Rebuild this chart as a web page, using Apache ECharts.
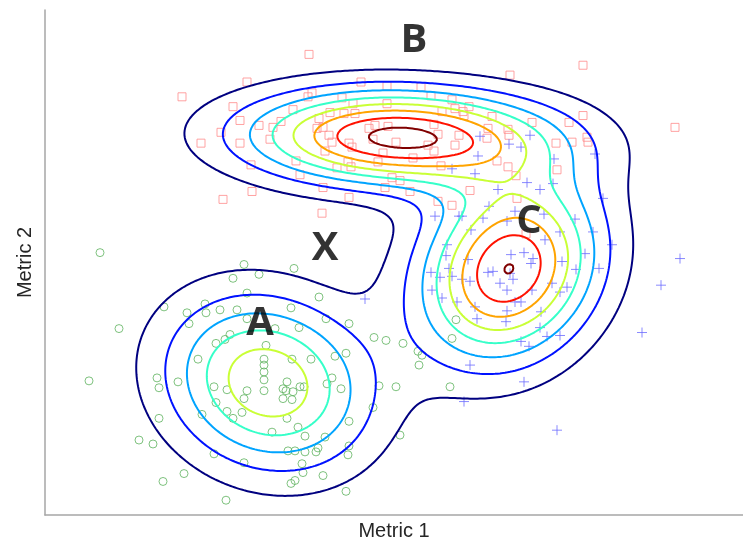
<!DOCTYPE html>
<html><head><meta charset="utf-8">
<script src="https://cdn.jsdelivr.net/npm/echarts@6/dist/echarts.min.js"></script>
<style>html,body{margin:0;padding:0;background:#fff}#c{width:743px;height:546px}</style>
</head><body><div id="c"></div>
<script>
// Group A (green circles)
const groupA = [[37.6,48],[42.8,48.8],[49.8,50],[40.4,45],[54.8,44.2],[32,42.8],[23.8,42.2],[28.4,41],[32.2,41],[35,41.6],[38.4,41.6],[40.4,39.8],[49.2,42],[46,37.8],[50.8,38],[56.2,39.8],[60.8,38.8],[28.8,38.8],[14.8,37.8],[65.8,36],[68.2,35.4],[37,36.6],[36,35.6],[34.2,34.8],[44.2,34.4],[30.6,31.6],[43.8,31.6],[43.8,30.4],[43.8,29],[43.8,27.4],[49.4,31.6],[53.2,31.6],[58,32.2],[60.2,32.8],[22.4,27.8],[22.8,25.8],[26.6,27],[8.8,27.2],[33.8,26],[36.4,25.4],[40.4,25.2],[39.8,23.6],[43.8,25.2],[48.4,27],[47.6,25.6],[48.2,25.2],[49.6,25],[51,26],[51.8,26],[47.6,23.6],[49.4,23.4],[56.4,26.6],[57.4,27.8],[59.2,25.6],[66.8,26.2],[34.2,22.8],[36.4,21],[37.6,19.6],[39.4,20.8],[31.4,20.4],[22.8,19.6],[48.4,19.6],[50.6,17.8],[45.4,16.8],[52,16],[56,15.8],[60.8,19],[65.6,21.8],[18.8,15.2],[21.6,14.4],[33.8,12.4],[39.8,10.6],[48.6,13],[50,13],[52,12.8],[54.2,12.8],[54.6,13.6],[60.8,14],[60.6,12.2],[51.4,10.4],[51.6,8.6],[55.6,8],[50,7],[49.2,6.4],[27.8,8.4],[23.6,6.8],[36.2,3],[60.2,4.8],[11,53.2],[39.8,50.8],[71.6,34.8],[74.6,33.2],[75.4,32.4],[74.8,30.4],[70.2,26],[81,26],[82.2,39.6],[81.4,35.8],[71,16.2]];
// Group B (red squares)
const groupB = [[52.8,93.4],[40.4,87.8],[27.4,84.8],[37.6,82.8],[63.2,87.8],[68.4,87],[53.4,85.6],[52.6,84.8],[59.4,84.6],[61.6,83.4],[68.4,83.4],[49.6,82.2],[57,81.6],[62,81.4],[59.8,81.4],[39,80],[47.2,79.8],[42.8,79],[45.6,78.6],[54.8,80.4],[54.4,78.4],[55.6,78.6],[35.2,77.6],[45,76.2],[39,75.4],[31.2,75.4],[56.8,77],[57.4,75.6],[64.8,78.4],[66,79],[65.6,76.2],[60.8,75.4],[61.4,74.6],[56,73.8],[67.6,73.4],[50.2,71.8],[41.2,71],[58.4,70.4],[60.6,71.6],[61.2,70.6],[66.6,71.6],[51,69],[55.6,66.4],[68,66.4],[41.4,65.6],[35.6,64],[60.8,64.4],[55.4,61.2],[69.4,68.4],[93,89.2],[75.2,86.8],[77.2,85],[81.4,84.2],[84.8,82.8],[82,82.4],[83.6,81.8],[83.8,81],[89.4,80.8],[68.6,78.8],[77.8,79.2],[78.6,77.2],[88.6,78.4],[92.6,78.2],[92.8,77],[70.2,75.6],[76.6,75],[82,75],[77.8,73.8],[73.6,72.4],[79.2,70.8],[90.4,71.8],[92.6,70.6],[107.6,91.2],[79.4,81.8],[97.4,79.6],[104.8,79.6],[107.6,81],[126,78.6],[82.8,77],[88.4,76.4],[102.2,75.4],[105.4,75.6],[108.4,76.6],[108.6,75.6],[94.2,68.8],[102.4,70],[71,67.8],[73,65.6],[85,65.8],[78.6,63.6],[81.4,62.8],[94.4,64.2],[96.2,57]];
// Group C (blue plus)
const groupC = [[87,76.8],[92.8,75.2],[95.2,74.6],[97,77],[86.6,72.8],[81.4,70.2],[86,69.2],[90.6,66],[96.4,67.4],[99,66],[101.6,67.2],[101.8,72.2],[110,73.2],[111.6,64.2],[88.8,62.6],[78,60.6],[82.8,60.6],[83.4,60.6],[85.2,57.8],[87.6,60.2],[94,61.6],[92.4,59.6],[99.8,61],[106,60],[109.6,57.4],[103,57.4],[100,55.8],[113.4,54.8],[80.4,54.8],[80.2,52.6],[108,53],[127,52],[95.8,53.2],[93.2,52.8],[97.6,52],[97.2,51],[103.4,51.4],[106.2,49.8],[110.8,50],[84.6,51.8],[80.8,50],[81.4,48.4],[83.4,47.8],[85,47.4],[88.6,49.2],[89.6,49.4],[93,49],[93.6,47.8],[91,47],[92.4,45.6],[77.2,49.2],[79,48.2],[77.4,45.6],[79.4,44],[82.4,43.2],[97.4,45.6],[101.4,47],[103,45.2],[104.4,46.2],[123.2,46.6],[94,43.2],[95.2,43.2],[86,42.2],[92.4,41.4],[99.2,41.2],[86.4,39.8],[92.2,39.2],[99,38],[100.4,36.2],[103,36.4],[95.2,35.2],[96.8,34.2],[119.4,37],[85,30.4],[95.8,27],[83.8,23],[102.4,17.2],[64,43.8]];
// Annotation letters
const annotations = [['A',43,38.8],['B',73.8,96.2],['C',96.8,59.4],['X',56,54]];
// Peak height of each mixture component, in contour-level units (read from how many levels each cluster reaches)
const peakLevels = [5.85, 8.3, 8.02];
const contourLevels = [1,2,3,4,5,6,7,8];
const levelColors = ['#000080','#0012ff','#00a4ff','#36ffc9','#c9ff36','#ffa400','#ff1200','#800000'];

const xMin=0,xMax=139.6,yMin=0,yMax=102.4,step=0.5;
// Gaussian mixture fitted to all points by EM, started from the three groups
function mk(mx,my,sxx,syy,sxy,w){const det=sxx*syy-sxy*sxy;return {mx,my,sxx,syy,sxy,w,det,ixx:syy/det,iyy:sxx/det,ixy:-sxy/det};}
function q(c,x,y){const dx=x-c.mx,dy=y-c.my;return c.ixx*dx*dx+2*c.ixy*dx*dy+c.iyy*dy*dy;}
const all=groupA.concat(groupB,groupC);
let comps=[groupA,groupB,groupC].map(g=>{const n=g.length;let mx=0,my=0;for(const p of g){mx+=p[0];my+=p[1];}mx/=n;my/=n;
  let sxx=0,syy=0,sxy=0;for(const p of g){const dx=p[0]-mx,dy=p[1]-my;sxx+=dx*dx;syy+=dy*dy;sxy+=dx*dy;}
  return mk(mx,my,sxx/n,syy/n,sxy/n,n/all.length);});
for(let it=0;it<300;it++){
  const R=all.map(p=>{const v=comps.map(c=>c.w*Math.exp(-0.5*q(c,p[0],p[1]))/Math.sqrt(c.det));const s=v[0]+v[1]+v[2];return v.map(t=>t/s);});
  comps=comps.map((c,k)=>{let nk=0,mx=0,my=0;all.forEach((p,n)=>{const r=R[n][k];nk+=r;mx+=r*p[0];my+=r*p[1];});mx/=nk;my/=nk;
    let sxx=0,syy=0,sxy=0;all.forEach((p,n)=>{const r=R[n][k];const dx=p[0]-mx,dy=p[1]-my;sxx+=r*dx*dx;syy+=r*dy*dy;sxy+=r*dx*dy;});
    return mk(mx,my,sxx/nk,syy/nk,sxy/nk,nk/all.length);});
}
function dens(x,y){let s=0;comps.forEach((c,k)=>{s+=peakLevels[k]*Math.exp(-0.5*q(c,x,y));});return s;}
const nx=Math.ceil((xMax-xMin)/step)+1, ny=Math.ceil((yMax-yMin)/step)+1;
const grid=[];
for(let j=0;j<ny;j++){const row=new Float64Array(nx);for(let i=0;i<nx;i++)row[i]=dens(xMin+i*step,yMin+j*step);grid.push(row);}
function contour(level){
  const segs=[];
  const X=i=>xMin+i*step,Y=j=>yMin+j*step;
  function ip(i0,j0,i1,j1){const v0=grid[j0][i0],v1=grid[j1][i1];const t=(level-v0)/(v1-v0);return [X(i0)+(X(i1)-X(i0))*t,Y(j0)+(Y(j1)-Y(j0))*t];}
  for(let j=0;j<ny-1;j++)for(let i=0;i<nx-1;i++){
    const a=grid[j][i],b=grid[j][i+1],c=grid[j+1][i+1],d=grid[j+1][i];
    const code=(a>level?1:0)|(b>level?2:0)|(c>level?4:0)|(d>level?8:0);
    if(code===0||code===15)continue;
    const E={B:()=>['h'+i+'_'+j,ip(i,j,i+1,j)],R:()=>['v'+(i+1)+'_'+j,ip(i+1,j,i+1,j+1)],T:()=>['h'+i+'_'+(j+1),ip(i,j+1,i+1,j+1)],L:()=>['v'+i+'_'+j,ip(i,j,i,j+1)]};
    const add=(e1,e2)=>{const p=E[e1](),r=E[e2]();segs.push([p[0],p[1],r[0],r[1]]);};
    const ctr=(a+b+c+d)/4>level;
    switch(code){
      case 1:case 14:add('L','B');break;
      case 2:case 13:add('B','R');break;
      case 3:case 12:add('L','R');break;
      case 4:case 11:add('R','T');break;
      case 6:case 9:add('B','T');break;
      case 7:case 8:add('L','T');break;
      case 5:if(ctr){add('B','R');add('L','T');}else{add('L','B');add('R','T');}break;
      case 10:if(ctr){add('L','B');add('R','T');}else{add('B','R');add('L','T');}break;
    }
  }
  const adj=new Map();
  segs.forEach((s,k)=>{[s[0],s[2]].forEach(id=>{if(!adj.has(id))adj.set(id,[]);adj.get(id).push(k);});});
  const used=new Uint8Array(segs.length);const out=[];
  function walk(cur,pts,front){
    while(true){const list=adj.get(cur);let nxt=-1;for(const m of list)if(!used[m]){nxt=m;break;}
      if(nxt<0)break;used[nxt]=1;const t=segs[nxt];let np;
      if(t[0]===cur){np=t[3];cur=t[2];}else{np=t[1];cur=t[0];}
      if(front)pts.unshift(np);else pts.push(np);}
  }
  for(let k=0;k<segs.length;k++){if(used[k])continue;used[k]=1;const s=segs[k];const pts=[s[1],s[3]];
    walk(s[2],pts,false);walk(s[0],pts,true);out.push(pts);}
  return out;
}
const contourSeries=contourLevels.map((lv,k)=>({type:'lines',coordinateSystem:'cartesian2d',polyline:true,silent:true,z:3,
    lineStyle:{color:levelColors[k],width:2,opacity:1,cap:'round',join:'round'},
    data:contour(lv).map(p=>({coords:p}))}));
const plusPath='path://M0,5L10,5M5,0L5,10';
const chart=echarts.init(document.getElementById('c'));
chart.setOption({
  animation:false,
  grid:{left:45,right:0,top:10,bottom:24},
  xAxis:{type:'value',min:xMin,max:xMax,name:'Metric 1',nameLocation:'middle',nameGap:6,
    nameTextStyle:{fontFamily:'Liberation Sans',fontSize:20,color:'#262626',verticalAlign:'top'},
    axisLine:{lineStyle:{color:'#a6a6a6',width:1.5}},axisTick:{show:false},axisLabel:{show:false},splitLine:{show:false}},
  yAxis:{type:'value',min:yMin,max:yMax,name:'Metric 2',nameLocation:'middle',nameGap:10,
    nameTextStyle:{fontFamily:'Liberation Sans',fontSize:20,color:'#262626'},
    axisLine:{lineStyle:{color:'#a6a6a6',width:1.5}},axisTick:{show:false},axisLabel:{show:false},splitLine:{show:false}},
  series:[
    {type:'scatter',data:groupA,symbol:'circle',symbolSize:8,z:2,silent:true,itemStyle:{color:'rgba(0,0,0,0)',borderColor:'#5fb35f',borderWidth:1}},
    {type:'scatter',data:groupB,symbol:'rect',symbolSize:8,z:2,silent:true,itemStyle:{color:'rgba(0,0,0,0)',borderColor:'#ff8c8c',borderWidth:1}},
    {type:'scatter',data:groupC,symbol:plusPath,symbolSize:10,z:2,silent:true,itemStyle:{color:'rgba(0,0,0,0)',borderColor:'#6b6bff',borderWidth:1}},
    ...contourSeries,
    {type:'scatter',data:annotations.map(a=>({value:[a[1],a[2]],name:a[0]})),symbolSize:0,z:10,silent:true,
      label:{show:true,position:'inside',formatter:'{b}',fontFamily:'Open Sans',fontWeight:'bold',fontSize:40,color:'#000'}}
  ]
});
</script></body></html>
